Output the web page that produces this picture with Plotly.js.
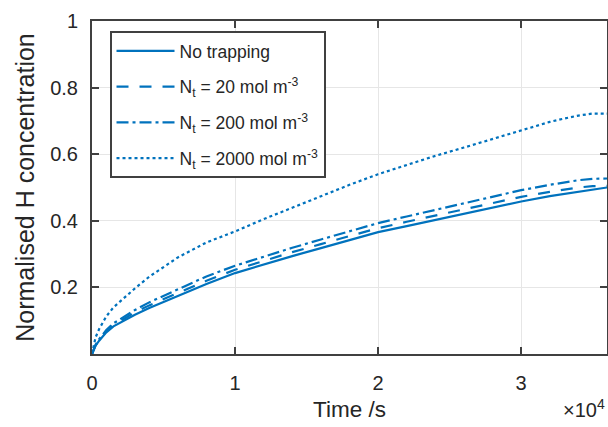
<!DOCTYPE html>
<html>
<head>
<meta charset="utf-8">
<script src="https://cdn.plot.ly/plotly-3.0.1.min.js"></script>
<style>
html,body{margin:0;padding:0;background:#fff;}
#chart{width:608px;height:427px;}
</style>
</head>
<body>
<div id="chart"></div>
<script>
// Time in seconds
var time = [0, 250, 500, 1000, 1500, 2000, 3000, 4000, 5000, 6000, 8000, 10000, 12000, 14000, 16000, 18000, 20000, 22000, 24000, 26000, 28000, 30000, 32000, 33000, 34000, 35000, 36000];
// Normalised H concentration
var noTrapping = [0, 0.025, 0.04, 0.065, 0.083, 0.095, 0.118, 0.138, 0.156, 0.174, 0.21, 0.243, 0.269, 0.294, 0.318, 0.342, 0.366, 0.384, 0.403, 0.422, 0.44, 0.458, 0.474, 0.481, 0.488, 0.494, 0.50];
var nt20 = [0, 0.026, 0.042, 0.068, 0.087, 0.1, 0.125, 0.146, 0.165, 0.183, 0.22, 0.253, 0.28, 0.306, 0.33, 0.354, 0.378, 0.397, 0.416, 0.435, 0.454, 0.472, 0.487, 0.494, 0.5, 0.504, 0.505];
var nt200 = [0, 0.028, 0.045, 0.072, 0.092, 0.106, 0.132, 0.155, 0.175, 0.194, 0.233, 0.265, 0.293, 0.319, 0.344, 0.368, 0.393, 0.413, 0.433, 0.453, 0.473, 0.492, 0.508, 0.515, 0.522, 0.526, 0.527];
var nt2000 = [0, 0.05, 0.075, 0.113, 0.14, 0.16, 0.197, 0.232, 0.262, 0.29, 0.335, 0.368, 0.405, 0.44, 0.475, 0.508, 0.54, 0.568, 0.595, 0.62, 0.645, 0.671, 0.697, 0.707, 0.716, 0.722, 0.722];

var seriesNames = ['No trapping', 'N<sub>t</sub> = 20 mol m<sup>-3</sup>', 'N<sub>t</sub> = 200 mol m<sup>-3</sup>', 'N<sub>t</sub> = 2000 mol m<sup>-3</sup>'];
var seriesValues = [noTrapping, nt20, nt200, nt2000];
var dashes = ['solid', '12px,11px', '12px,4px,3px,4px', '3px,3px'];

var xTickVals = [0, 10000, 20000, 30000];
var xTickText = ['0', '1', '2', '3'];
var yTickVals = [0.2, 0.4, 0.6, 0.8, 1];
var yTickText = ['0.2', '0.4', '0.6', '0.8', '1'];

var color = '#0072BD';
var traces = seriesValues.map(function(v, i){
  return {
    x: time, y: v, type: 'scatter', mode: 'lines', name: seriesNames[i],
    legendgroup: 'g' + i,
    line: {color: color, width: 2.2, dash: dashes[i]}
  };
});

var axisCol = '#404040';
var layout = {
  width: 608, height: 427,
  margin: {l: 92, r: 1, t: 21, b: 73, pad: 0},
  paper_bgcolor: '#fff', plot_bgcolor: '#fff',
  font: {family: 'Liberation Sans, Arial, sans-serif', color: '#262626'},
  showlegend: true,
  legend: {
    x: 0.034, y: 0.97, xanchor: 'left', yanchor: 'top',
    bgcolor: '#fff', bordercolor: axisCol, borderwidth: 2,
    font: {size: 17.5, color: '#262626'},
    itemwidth: 58, tracegroupgap: 10
  },
  xaxis: {
    range: [0, 36000], tickvals: xTickVals, ticktext: xTickText,
    showline: true, linecolor: axisCol, linewidth: 2, mirror: 'ticks',
    ticks: 'inside', ticklen: 7, tickwidth: 2, tickcolor: axisCol,
    showgrid: true, gridcolor: '#e6e6e6', gridwidth: 1, zeroline: false,
    tickfont: {size: 20, color: '#262626'}, ticklabelstandoff: 10,
    title: {text: 'Time /s', font: {size: 22.5, color: '#262626'}, standoff: 8}
  },
  yaxis: {
    range: [0, 1], tickvals: yTickVals, ticktext: yTickText,
    showline: true, linecolor: axisCol, linewidth: 2, mirror: 'ticks',
    ticks: 'inside', ticklen: 7, tickwidth: 2, tickcolor: axisCol,
    showgrid: true, gridcolor: '#e6e6e6', gridwidth: 1, zeroline: false,
    tickfont: {size: 20, color: '#262626'}, ticklabelstandoff: 8,
    title: {text: 'Normalised H concentration', font: {size: 25, color: '#262626'}, standoff: 8}
  },
  annotations: [{
    xref: 'paper', yref: 'paper', x: 1, y: -0.165, xanchor: 'right', yanchor: 'middle',
    text: '\u00d710<sup>4</sup>', showarrow: false, font: {size: 20, color: '#262626'}
  }]
};

Plotly.newPlot('chart', traces, layout, {displayModeBar: false, staticPlot: true});
</script>
</body>
</html>
